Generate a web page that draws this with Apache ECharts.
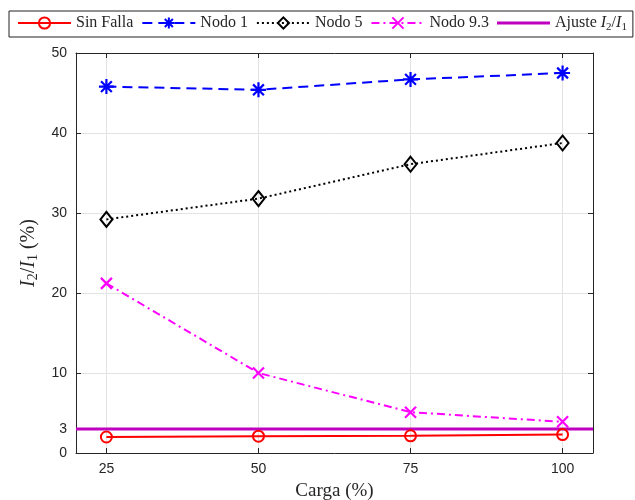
<!DOCTYPE html>
<html>
<head>
<meta charset="utf-8">
<script src="https://cdn.jsdelivr.net/npm/echarts@6/dist/echarts.min.js"></script>
<style>
  html, body { margin: 0; padding: 0; background: #fff; }
  #chart { width: 635px; height: 500px; }
</style>
</head>
<body>
<div id="chart"></div>
<script>
// Load level (%) on the x axis
const carga = [25, 50, 75, 100];

// Negative / positive sequence current ratio I2/I1 (%)
const sinFalla = [2.0, 2.1, 2.15, 2.3];
const nodo1 = [45.8, 45.4, 46.7, 47.5];
const nodo5 = [29.2, 31.8, 36.1, 38.75];
const nodo93 = [21.2, 10.0, 5.1, 3.9];
const ajuste = 3;

// Axis ranges and tick marks
const xRange = [20, 105];
const xTicks = [25, 50, 75, 100];
const yRange = [0, 50];
const yTicks = [0, 3, 10, 20, 30, 40, 50];

const AXIS = '#262626';
const GRID = '#e3e3e3';
const SERIF = '"Liberation Serif", "DejaVu Serif", serif';
const SANS = '"Liberation Sans", Arial, sans-serif';

const SYM_ASTERISK = 'path://M0,-1L0,1M-1,0L1,0M-0.72,-0.72L0.72,0.72M-0.72,0.72L0.72,-0.72';
const SYM_CROSS = 'path://M-1,-1L1,1M-1,1L1,-1';
const ICON_BAR = 'path://M0,0L52,0L52,3L0,3Z';

const mathRich = (size) => ({
  i: { fontFamily: SERIF, fontStyle: 'italic', fontSize: size, color: AXIS, lineHeight: size + 4 },
  n: { fontFamily: SERIF, fontSize: size, color: AXIS, lineHeight: size + 4 },
  s: { fontFamily: SERIF, fontSize: Math.round(size * 0.7), color: AXIS, verticalAlign: 'bottom', lineHeight: Math.round(size * 0.55) }
});

const pairs = (ys) => carga.map((x, k) => [x, ys[k]]);

const chart = echarts.init(document.getElementById('chart'), null, { renderer: 'canvas' });

chart.setOption({
  animation: false,
  backgroundColor: '#fff',
  legend: {
    left: 9,
    top: 11,
    padding: [4, 6, 4, 8],
    itemGap: 8,
    itemWidth: 53,
    itemHeight: 14,
    borderColor: '#222',
    borderWidth: 1,
    backgroundColor: '#fff',
    textStyle: { fontFamily: SERIF, fontSize: 16, color: AXIS, rich: mathRich(16) },
    data: [
      'Sin Falla', 'Nodo 1', 'Nodo 5', 'Nodo 9.3',
      { name: 'Ajuste I2/I1', icon: ICON_BAR, itemStyle: { color: '#bf00bf', borderWidth: 0 } }
    ],
    formatter: (name) => name === 'Ajuste I2/I1'
      ? '{n|Ajuste }{i|I}{s|2}{n|/}{i|I}{s|1}'
      : '{n|' + name + '}'
  },
  grid: { left: 76, right: 42, top: 53, bottom: 47, containLabel: false, outerBoundsMode: 'none' },
  xAxis: [{
    type: 'value',
    min: xRange[0], max: xRange[1],
    name: 'Carga (%)',
    nameLocation: 'middle',
    nameGap: 29,
    nameTextStyle: { fontFamily: SERIF, fontSize: 19, color: AXIS },
    axisLine: { show: true, onZero: false, lineStyle: { color: AXIS, width: 1 } },
    axisTick: { show: true, inside: true, length: 5, customValues: xTicks, lineStyle: { color: AXIS } },
    axisLabel: { customValues: xTicks, fontFamily: SANS, fontSize: 14, color: AXIS, margin: 9 },
    splitLine: { show: true, lineStyle: { color: GRID, width: 1 } }
  }, {
    type: 'value',
    position: 'top',
    min: xRange[0], max: xRange[1],
    axisLine: { show: true, onZero: false, lineStyle: { color: AXIS, width: 1 } },
    axisTick: { show: true, inside: true, length: 5, customValues: xTicks, lineStyle: { color: AXIS } },
    axisLabel: { show: false },
    splitLine: { show: false }
  }],
  yAxis: [{
    type: 'value',
    min: yRange[0], max: yRange[1],
    name: '{i|I}{s|2}{n|/}{i|I}{s|1}{n| (%)}',
    nameLocation: 'middle',
    nameRotate: 90,
    nameGap: 29,
    nameTextStyle: { rich: mathRich(20) },
    axisLine: { show: true, onZero: false, lineStyle: { color: AXIS, width: 1 } },
    axisTick: { show: true, inside: true, length: 5, customValues: yTicks, lineStyle: { color: AXIS } },
    axisLabel: { customValues: yTicks, fontFamily: SANS, fontSize: 14, color: AXIS, margin: 9 },
    splitLine: { show: true, lineStyle: { color: GRID, width: 1 } }
  }, {
    type: 'value',
    position: 'right',
    min: yRange[0], max: yRange[1],
    axisLine: { show: true, onZero: false, lineStyle: { color: AXIS, width: 1 } },
    axisTick: { show: true, inside: true, length: 5, customValues: yTicks, lineStyle: { color: AXIS } },
    axisLabel: { show: false },
    splitLine: { show: false }
  }],
  series: [{
    name: 'Sin Falla',
    type: 'line',
    data: pairs(sinFalla),
    symbol: 'circle',
    symbolSize: 11,
    lineStyle: { color: '#ff0000', width: 2, type: 'solid' },
    itemStyle: { color: 'rgba(0,0,0,0)', borderColor: '#ff0000', borderWidth: 2 }
  }, {
    name: 'Nodo 1',
    type: 'line',
    data: pairs(nodo1),
    symbol: SYM_ASTERISK,
    symbolSize: 15,
    lineStyle: { color: '#0000ff', width: 2, type: [10, 6] },
    itemStyle: { color: 'rgba(0,0,0,0)', borderColor: '#0000ff', borderWidth: 2.2 }
  }, {
    name: 'Nodo 5',
    type: 'line',
    data: pairs(nodo5),
    symbol: 'diamond',
    symbolSize: [12, 15],
    lineStyle: { color: '#000000', width: 2, type: [2, 3] },
    itemStyle: { color: 'rgba(0,0,0,0)', borderColor: '#000000', borderWidth: 2 }
  }, {
    name: 'Nodo 9.3',
    type: 'line',
    data: pairs(nodo93),
    symbol: SYM_CROSS,
    symbolSize: 11,
    lineStyle: { color: '#ff00ff', width: 2, type: [8, 4, 2, 4] },
    itemStyle: { color: 'rgba(0,0,0,0)', borderColor: '#ff00ff', borderWidth: 2.2 }
  }, {
    name: 'Ajuste I2/I1',
    type: 'line',
    data: [[xRange[0], ajuste], [xRange[1], ajuste]],
    symbol: 'none',
    lineStyle: { color: '#bf00bf', width: 3, type: 'solid' },
    itemStyle: { color: '#bf00bf' }
  }]
});
</script>
</body>
</html>
